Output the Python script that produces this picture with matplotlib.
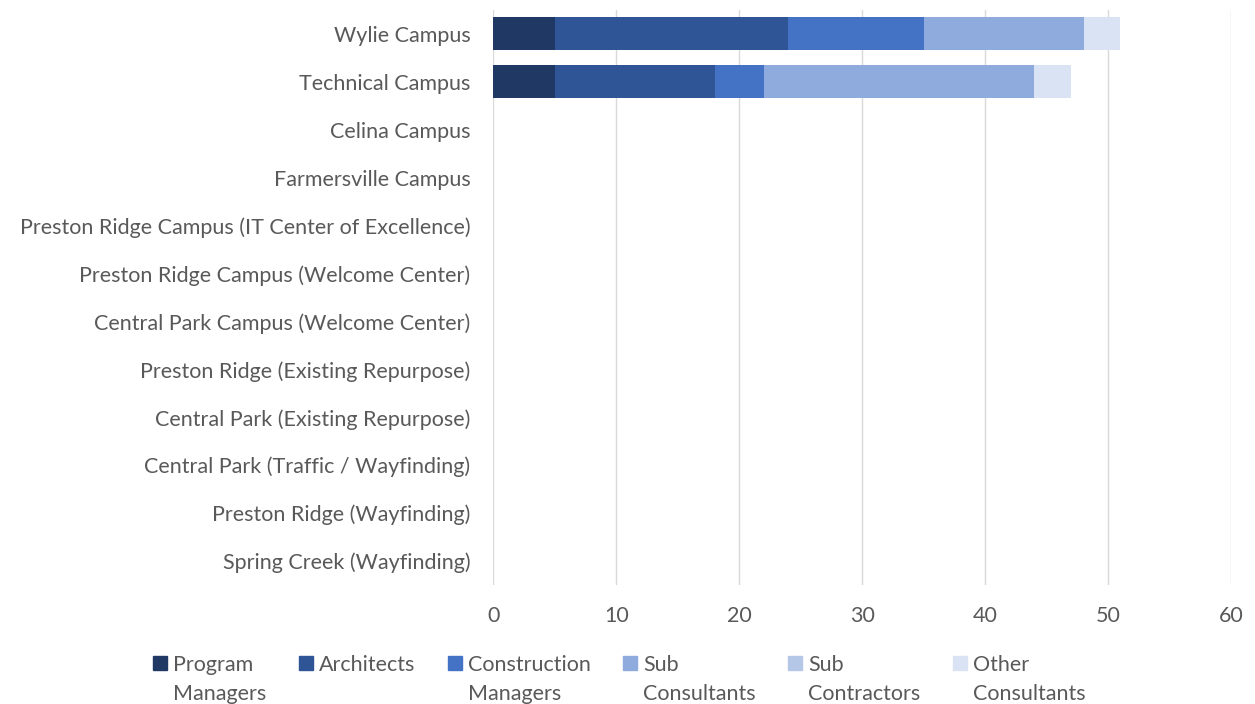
import numpy as np
import matplotlib
matplotlib.use('Agg')
import matplotlib.pyplot as plt
from matplotlib.patches import Rectangle

# categories top to bottom, as in the chart
campuses = ['Wylie Campus', 'Technical Campus', 'Celina Campus', 'Farmersville Campus',
            'Preston Ridge Campus (IT Center of Excellence)',
            'Preston Ridge Campus (Welcome Center)',
            'Central Park Campus (Welcome Center)',
            'Preston Ridge (Existing Repurpose)',
            'Central Park (Existing Repurpose)',
            'Central Park (Traffic / Wayfinding)',
            'Preston Ridge (Wayfinding)',
            'Spring Creek (Wayfinding)']

program_managers = [5, 5, 0, 0, 0, 0, 0, 0, 0, 0, 0, 0]
architects = [19, 13, 0, 0, 0, 0, 0, 0, 0, 0, 0, 0]
construction_managers = [11, 4, 0, 0, 0, 0, 0, 0, 0, 0, 0, 0]
sub_consultants = [13, 22, 0, 0, 0, 0, 0, 0, 0, 0, 0, 0]
sub_contractors = [0, 0, 0, 0, 0, 0, 0, 0, 0, 0, 0, 0]
other_consultants = [3, 3, 0, 0, 0, 0, 0, 0, 0, 0, 0, 0]

series = [program_managers, architects, construction_managers,
          sub_consultants, sub_contractors, other_consultants]
labels = [('Program', 'Managers'), ('Architects', ''), ('Construction', 'Managers'),
          ('Sub', 'Consultants'), ('Sub', 'Contractors'), ('Other', 'Consultants')]
colors = ['#203864', '#2F5597', '#4472C4', '#8FAADC', '#B4C7E7', '#DAE3F3']

plt.rcParams['font.family'] = ['Lato', 'DejaVu Sans']
txt = '#595959'
fs = 15.5

W, H = 1255, 704
fig = plt.figure(figsize=(W / 100, H / 100), dpi=100)
ax = fig.add_axes([0.393, 0.169, 0.588, 0.817])

pos = np.arange(len(campuses))
left = np.zeros(len(campuses))
for vals, col in zip(series, colors):
    ax.barh(pos, vals, 0.69, left=left, color=col, zorder=3)
    left += np.array(vals)

ax.set_ylim(len(campuses) - 0.5, -0.5)
ax.set_xlim(0, 60)
ax.set_xticks(range(0, 61, 10))
ax.set_yticks(pos)
ax.set_yticklabels(campuses)
ax.tick_params(axis='both', length=0, labelsize=fs, colors=txt)
ax.tick_params(axis='x', pad=15)
ax.tick_params(axis='y', pad=16.5)
ax.grid(axis='x', color='#D9D9D9', linewidth=1, zorder=0)
for s in ax.spines.values():
    s.set_visible(False)

# legend drawn by hand so the swatch sits on the first text line (Excel style)
handle_x = [153, 299, 448, 623, 788, 953]
for hx, (l1, l2), col in zip(handle_x, labels, colors):
    fig.add_artist(Rectangle((hx / W, 1 - 670 / H), 14 / W, 14 / H,
                             transform=fig.transFigure, color=col))
    fig.text((hx + 20) / W, 1 - 671 / H, l1, fontsize=fs, color=txt, va='baseline')
    if l2:
        fig.text((hx + 20) / W, 1 - 700 / H, l2, fontsize=fs, color=txt, va='baseline')

fig.savefig('out.png', dpi=100)
